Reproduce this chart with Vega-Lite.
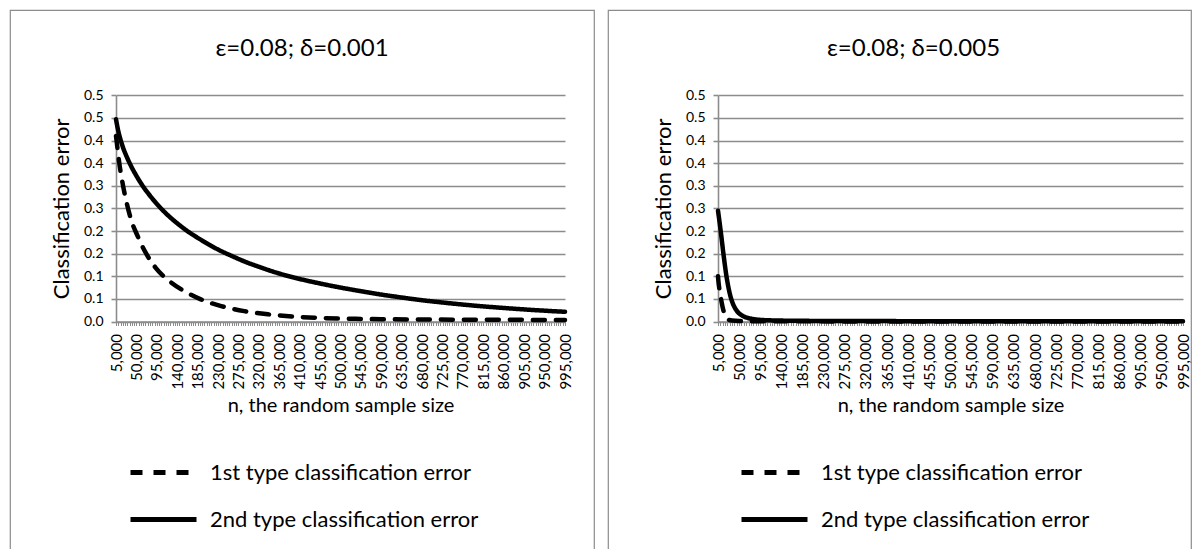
{
  "$schema": "https://vega.github.io/schema/vega-lite/v6.json",
  "padding": {"left": 9, "top": 9, "right": 0, "bottom": 0},
  "spacing": 12,
  "background": "white",
  "config": {
    "font": "Lato",
    "view": {"stroke": "#8c8c8c", "strokeWidth": 1.2},
    "axis": {"domainColor": "#8c8c8c", "tickColor": "#8c8c8c", "gridColor": "#8c8c8c", "labelColor": "#000000", "titleColor": "#000000", "labelFont": "Lato", "titleFont": "Lato", "titleFontWeight": "normal"},
    "legend": {"labelFont": "Lato", "labelColor": "#000000"},
    "title": {"font": "Lato", "fontWeight": "normal", "color": "#000000"}
  },
  "datasets": {
    "d": [
      {"p": "A", "s": "1st type classification error", "n": 5000, "e": 0.41},
      {"p": "A", "s": "1st type classification error", "n": 8000, "e": 0.385},
      {"p": "A", "s": "1st type classification error", "n": 12000, "e": 0.352},
      {"p": "A", "s": "1st type classification error", "n": 18000, "e": 0.314},
      {"p": "A", "s": "1st type classification error", "n": 27000, "e": 0.269},
      {"p": "A", "s": "1st type classification error", "n": 38000, "e": 0.226},
      {"p": "A", "s": "1st type classification error", "n": 53000, "e": 0.188},
      {"p": "A", "s": "1st type classification error", "n": 71000, "e": 0.151},
      {"p": "A", "s": "1st type classification error", "n": 93000, "e": 0.118},
      {"p": "A", "s": "1st type classification error", "n": 123000, "e": 0.089},
      {"p": "A", "s": "1st type classification error", "n": 156000, "e": 0.067},
      {"p": "A", "s": "1st type classification error", "n": 192000, "e": 0.049},
      {"p": "A", "s": "1st type classification error", "n": 237000, "e": 0.034},
      {"p": "A", "s": "1st type classification error", "n": 288000, "e": 0.023},
      {"p": "A", "s": "1st type classification error", "n": 340000, "e": 0.016},
      {"p": "A", "s": "1st type classification error", "n": 398000, "e": 0.0108},
      {"p": "A", "s": "1st type classification error", "n": 455000, "e": 0.0078},
      {"p": "A", "s": "1st type classification error", "n": 500000, "e": 0.0065},
      {"p": "A", "s": "1st type classification error", "n": 545000, "e": 0.0057},
      {"p": "A", "s": "1st type classification error", "n": 590000, "e": 0.005},
      {"p": "A", "s": "1st type classification error", "n": 680000, "e": 0.0045},
      {"p": "A", "s": "1st type classification error", "n": 770000, "e": 0.004},
      {"p": "A", "s": "1st type classification error", "n": 860000, "e": 0.0037},
      {"p": "A", "s": "1st type classification error", "n": 950000, "e": 0.0035},
      {"p": "A", "s": "1st type classification error", "n": 995000, "e": 0.0034},
      {"p": "A", "s": "2nd type classification error", "n": 5000, "e": 0.447},
      {"p": "A", "s": "2nd type classification error", "n": 10000, "e": 0.421},
      {"p": "A", "s": "2nd type classification error", "n": 15000, "e": 0.402},
      {"p": "A", "s": "2nd type classification error", "n": 20000, "e": 0.386},
      {"p": "A", "s": "2nd type classification error", "n": 30000, "e": 0.361},
      {"p": "A", "s": "2nd type classification error", "n": 40000, "e": 0.34},
      {"p": "A", "s": "2nd type classification error", "n": 50000, "e": 0.322},
      {"p": "A", "s": "2nd type classification error", "n": 65000, "e": 0.298},
      {"p": "A", "s": "2nd type classification error", "n": 80000, "e": 0.278},
      {"p": "A", "s": "2nd type classification error", "n": 95000, "e": 0.26},
      {"p": "A", "s": "2nd type classification error", "n": 115000, "e": 0.239},
      {"p": "A", "s": "2nd type classification error", "n": 140000, "e": 0.217},
      {"p": "A", "s": "2nd type classification error", "n": 165000, "e": 0.198},
      {"p": "A", "s": "2nd type classification error", "n": 185000, "e": 0.185},
      {"p": "A", "s": "2nd type classification error", "n": 210000, "e": 0.17},
      {"p": "A", "s": "2nd type classification error", "n": 230000, "e": 0.159},
      {"p": "A", "s": "2nd type classification error", "n": 260000, "e": 0.145},
      {"p": "A", "s": "2nd type classification error", "n": 290000, "e": 0.132},
      {"p": "A", "s": "2nd type classification error", "n": 320000, "e": 0.121},
      {"p": "A", "s": "2nd type classification error", "n": 365000, "e": 0.106},
      {"p": "A", "s": "2nd type classification error", "n": 410000, "e": 0.094},
      {"p": "A", "s": "2nd type classification error", "n": 455000, "e": 0.084},
      {"p": "A", "s": "2nd type classification error", "n": 500000, "e": 0.075},
      {"p": "A", "s": "2nd type classification error", "n": 545000, "e": 0.067},
      {"p": "A", "s": "2nd type classification error", "n": 590000, "e": 0.0595},
      {"p": "A", "s": "2nd type classification error", "n": 635000, "e": 0.053},
      {"p": "A", "s": "2nd type classification error", "n": 680000, "e": 0.047},
      {"p": "A", "s": "2nd type classification error", "n": 725000, "e": 0.042},
      {"p": "A", "s": "2nd type classification error", "n": 770000, "e": 0.0374},
      {"p": "A", "s": "2nd type classification error", "n": 815000, "e": 0.0334},
      {"p": "A", "s": "2nd type classification error", "n": 860000, "e": 0.0299},
      {"p": "A", "s": "2nd type classification error", "n": 905000, "e": 0.0267},
      {"p": "A", "s": "2nd type classification error", "n": 950000, "e": 0.0239},
      {"p": "A", "s": "2nd type classification error", "n": 995000, "e": 0.0214},
      {"p": "B", "s": "1st type classification error", "n": 5000, "e": 0.1},
      {"p": "B", "s": "1st type classification error", "n": 6000, "e": 0.088},
      {"p": "B", "s": "1st type classification error", "n": 7500, "e": 0.075},
      {"p": "B", "s": "1st type classification error", "n": 9000, "e": 0.064},
      {"p": "B", "s": "1st type classification error", "n": 11000, "e": 0.052},
      {"p": "B", "s": "1st type classification error", "n": 13000, "e": 0.041},
      {"p": "B", "s": "1st type classification error", "n": 15000, "e": 0.031},
      {"p": "B", "s": "1st type classification error", "n": 17500, "e": 0.021},
      {"p": "B", "s": "1st type classification error", "n": 20000, "e": 0.014},
      {"p": "B", "s": "1st type classification error", "n": 23000, "e": 0.008},
      {"p": "B", "s": "1st type classification error", "n": 27000, "e": 0.004},
      {"p": "B", "s": "1st type classification error", "n": 35000, "e": 0.002},
      {"p": "B", "s": "1st type classification error", "n": 50000, "e": 0.001},
      {"p": "B", "s": "1st type classification error", "n": 95000, "e": 0.0005},
      {"p": "B", "s": "1st type classification error", "n": 200000, "e": 0.0003},
      {"p": "B", "s": "1st type classification error", "n": 500000, "e": 0.0002},
      {"p": "B", "s": "1st type classification error", "n": 995000, "e": 0.0001},
      {"p": "B", "s": "2nd type classification error", "n": 5000, "e": 0.245},
      {"p": "B", "s": "2nd type classification error", "n": 8000, "e": 0.222},
      {"p": "B", "s": "2nd type classification error", "n": 11000, "e": 0.198},
      {"p": "B", "s": "2nd type classification error", "n": 14000, "e": 0.172},
      {"p": "B", "s": "2nd type classification error", "n": 17000, "e": 0.146},
      {"p": "B", "s": "2nd type classification error", "n": 20000, "e": 0.122},
      {"p": "B", "s": "2nd type classification error", "n": 23000, "e": 0.1},
      {"p": "B", "s": "2nd type classification error", "n": 26000, "e": 0.082},
      {"p": "B", "s": "2nd type classification error", "n": 30000, "e": 0.062},
      {"p": "B", "s": "2nd type classification error", "n": 35000, "e": 0.044},
      {"p": "B", "s": "2nd type classification error", "n": 40000, "e": 0.032},
      {"p": "B", "s": "2nd type classification error", "n": 47000, "e": 0.021},
      {"p": "B", "s": "2nd type classification error", "n": 55000, "e": 0.014},
      {"p": "B", "s": "2nd type classification error", "n": 65000, "e": 0.009},
      {"p": "B", "s": "2nd type classification error", "n": 75000, "e": 0.0062},
      {"p": "B", "s": "2nd type classification error", "n": 90000, "e": 0.004},
      {"p": "B", "s": "2nd type classification error", "n": 110000, "e": 0.0028},
      {"p": "B", "s": "2nd type classification error", "n": 140000, "e": 0.002},
      {"p": "B", "s": "2nd type classification error", "n": 185000, "e": 0.0015},
      {"p": "B", "s": "2nd type classification error", "n": 275000, "e": 0.001},
      {"p": "B", "s": "2nd type classification error", "n": 410000, "e": 0.0008},
      {"p": "B", "s": "2nd type classification error", "n": 590000, "e": 0.0006},
      {"p": "B", "s": "2nd type classification error", "n": 770000, "e": 0.0005},
      {"p": "B", "s": "2nd type classification error", "n": 995000, "e": 0.0004}
    ]
  },
  "resolve": {"scale": {"strokeDash": "independent", "x": "independent", "y": "independent"}, "legend": {"strokeDash": "independent"}},
  "hconcat": [
    {
      "width": 584,
      "height": 541,
      "title": {"text": "ε=0.08; δ=0.001", "offset": -63, "baseline": "middle", "fontSize": 24, "anchor": "middle", "frame": "group"},
      "data": {"name": "d"},
      "transform": [{"filter": "datum.p === 'A'"}],
      "mark": {"type": "line", "color": "black", "strokeWidth": 4.5, "strokeCap": "round", "strokeJoin": "round", "interpolate": "monotone"},
      "encoding": {
        "x": {"field": "n", "type": "quantitative",
          "scale": {"domain": [5000, 995000], "range": [106, 555], "nice": false, "zero": false},
          "axis": {"title": "n, the random sample size", "titleFontSize": 20, "titlePadding": 6, "tickCount": 198,
            "labelExpr": "(datum.value - 5000) % 45000 === 0 ? format(datum.value, ',') : ''",
            "labelAngle": 270, "labelFontSize": 15, "labelOverlap": false, "labelPadding": 8, "labelFlush": false,
            "tickSize": 4, "tickWidth": 1, "offset": -229.5, "grid": false, "domainWidth": 1.6}},
        "y": {"field": "e", "type": "quantitative",
          "scale": {"domain": [0, 0.5], "range": [311.5, 85.3], "nice": false, "zero": true},
          "axis": {"title": "Classification error", "titleFontSize": 22, "titlePadding": 10,
            "values": [0, 0.05, 0.1, 0.15, 0.2, 0.25, 0.3, 0.35, 0.4, 0.45, 0.5],
            "labelExpr": "format(round(datum.value * 10 + 0.001) / 10, '.1f')",
            "labelFontSize": 14, "labelPadding": 8, "tickSize": 5, "tickWidth": 1.6, "offset": -106,
            "grid": true, "gridWidth": 1.6, "domainWidth": 1.6, "labelFlush": false}},
        "strokeDash": {"field": "s", "type": "nominal",
          "scale": {"domain": ["1st type classification error", "2nd type classification error"], "range": [[12, 11], [1, 0]]},
          "legend": {"title": null, "orient": "none", "legendX": 118, "legendY": 427, "direction": "vertical",
            "symbolType": "stroke", "symbolSize": 4356, "symbolStrokeWidth": 5, "symbolStrokeColor": "black",
            "labelFontSize": 22, "labelLimit": 400, "labelOffset": 11, "rowPadding": -20, "padding": 0}}
      }
    },
    {
      "width": 583,
      "height": 541,
      "title": {"text": "ε=0.08; δ=0.005", "offset": -63, "dx": 14, "baseline": "middle", "fontSize": 24, "anchor": "middle", "frame": "group"},
      "data": {"name": "d"},
      "transform": [{"filter": "datum.p === 'B'"}],
      "mark": {"type": "line", "color": "black", "strokeWidth": 4.5, "strokeCap": "round", "strokeJoin": "round", "interpolate": "monotone"},
      "encoding": {
        "x": {"field": "n", "type": "quantitative",
          "scale": {"domain": [5000, 995000], "range": [110, 575], "nice": false, "zero": false},
          "axis": {"title": "n, the random sample size", "titleFontSize": 20, "titlePadding": 6, "tickCount": 198,
            "labelExpr": "(datum.value - 5000) % 45000 === 0 ? format(datum.value, ',') : ''",
            "labelAngle": 270, "labelFontSize": 15, "labelOverlap": false, "labelPadding": 8, "labelFlush": false,
            "tickSize": 4, "tickWidth": 1, "offset": -229.5, "grid": false, "domainWidth": 1.6}},
        "y": {"field": "e", "type": "quantitative",
          "scale": {"domain": [0, 0.5], "range": [311.5, 85.3], "nice": false, "zero": true},
          "axis": {"title": "Classification error", "titleFontSize": 22, "titlePadding": 10,
            "values": [0, 0.05, 0.1, 0.15, 0.2, 0.25, 0.3, 0.35, 0.4, 0.45, 0.5],
            "labelExpr": "format(round(datum.value * 10 + 0.001) / 10, '.1f')",
            "labelFontSize": 14, "labelPadding": 8, "tickSize": 5, "tickWidth": 1.6, "offset": -110,
            "grid": true, "gridWidth": 1.6, "domainWidth": 1.6, "labelFlush": false}},
        "strokeDash": {"field": "s", "type": "nominal",
          "scale": {"domain": ["1st type classification error", "2nd type classification error"], "range": [[12, 11], [1, 0]]},
          "legend": {"title": null, "orient": "none", "legendX": 131, "legendY": 427, "direction": "vertical",
            "symbolType": "stroke", "symbolSize": 4356, "symbolStrokeWidth": 5, "symbolStrokeColor": "black",
            "labelFontSize": 22, "labelLimit": 400, "labelOffset": 11, "rowPadding": -20, "padding": 0}}
      }
    }
  ]
}
